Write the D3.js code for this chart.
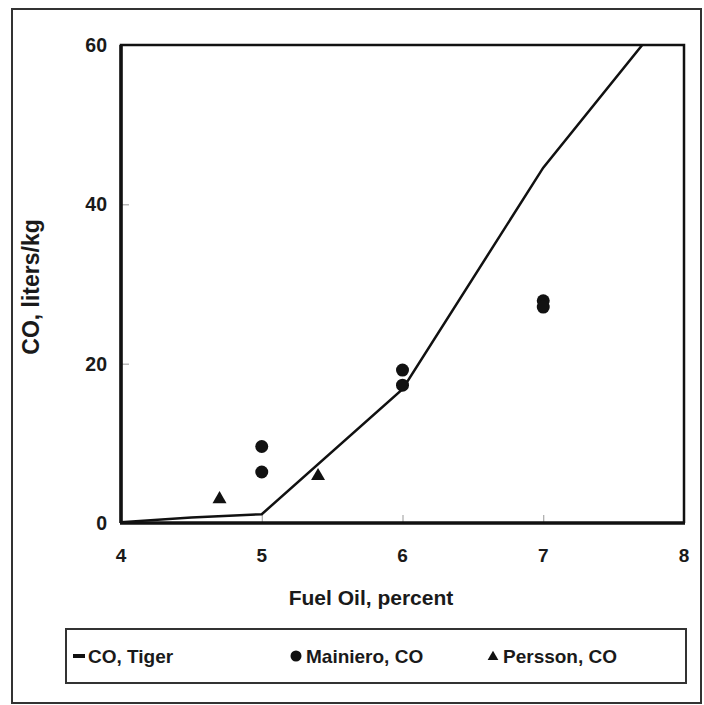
<!DOCTYPE html>
<html>
<head>
<meta charset="utf-8">
<script src="https://cdn.jsdelivr.net/npm/d3@7"></script>
<style>
body { margin: 0; background: #fff; }
text { font-family: "Liberation Sans", Arial, sans-serif; font-weight: bold; fill: #1a1a1a; }
</style>
</head>
<body>
<script>
var w = 704;
var h = 705;

// CO, Tiger model curve
var tigerX = [4, 4.5, 5, 6, 7, 8];
var tigerY = [0.1, 0.7, 1.1, 16.8, 44.6, 66.5];
// Mainiero, CO measurements
var mainieroX = [5, 5, 6, 6, 7, 7];
var mainieroY = [9.6, 6.4, 19.2, 17.3, 27.9, 27.1];
// Persson, CO measurements
var perssonX = [4.7, 5.4];
var perssonY = [3.0, 5.9];

var xTicks = [4, 5, 6, 7, 8];
var yTicks = [0, 20, 40, 60];

var pLeft = 121, pTop = 45, pRight = 684, pBottom = 523;

var svg = d3.select("body")
            .append("svg")
            .attr("width", w)
            .attr("height", h);

// outer frame
svg.append("rect")
    .attr("x", 12).attr("y", 9)
    .attr("width", 689).attr("height", 694)
    .attr("fill", "none")
    .attr("stroke", "#333")
    .attr("stroke-width", 2);

var x = d3.scaleLinear().domain([4, 8]).range([pLeft, pRight]);
var y = d3.scaleLinear().domain([0, 60]).range([pBottom, pTop]);

svg.append("defs").append("clipPath")
    .attr("id", "plot")
    .append("rect")
    .attr("x", pLeft).attr("y", pTop)
    .attr("width", pRight - pLeft).attr("height", pBottom - pTop);

// inner tick marks
var xAxis = d3.axisTop(x).tickValues(xTicks).tickSize(8).tickFormat("");
var yAxis = d3.axisRight(y).tickValues(yTicks).tickSize(8).tickFormat("");
var gx = svg.append("g").attr("transform", "translate(0," + pBottom + ")").call(xAxis);
var gy = svg.append("g").attr("transform", "translate(" + pLeft + ",0)").call(yAxis);
gx.select(".domain").remove();
gy.select(".domain").remove();
svg.selectAll(".tick line").attr("stroke", "#999").attr("stroke-width", 1);

// plot box
svg.append("path")
    .attr("d", "M" + pLeft + "," + pBottom + "V" + pTop + "H" + pRight + "V" + pBottom)
    .attr("fill", "none")
    .attr("stroke", "#111")
    .attr("stroke-width", 2.5);
svg.append("line")
    .attr("x1", pLeft - 1).attr("x2", pRight + 1)
    .attr("y1", pBottom).attr("y2", pBottom)
    .attr("stroke", "#111")
    .attr("stroke-width", 3.5);
svg.append("line")
    .attr("x1", pLeft).attr("x2", pLeft)
    .attr("y1", pTop).attr("y2", pBottom)
    .attr("stroke", "#111")
    .attr("stroke-width", 3.5);

// tick labels
svg.selectAll(".xlab")
    .data(xTicks)
    .enter()
    .append("text")
    .attr("class", "xlab")
    .text(function(d){ return d; })
    .attr("x", function(d){ return x(d); })
    .attr("y", pBottom + 39)
    .attr("text-anchor", "middle")
    .attr("font-size", "19px");

svg.selectAll(".ylab")
    .data(yTicks)
    .enter()
    .append("text")
    .attr("class", "ylab")
    .text(function(d){ return d; })
    .attr("x", pLeft - 14)
    .attr("y", function(d){ return y(d) + 7; })
    .attr("text-anchor", "end")
    .attr("font-size", "19.5px");

// axis titles
svg.append("text")
    .text("Fuel Oil, percent")
    .attr("x", 371)
    .attr("y", 605)
    .attr("text-anchor", "middle")
    .attr("font-size", "21px");

svg.append("text")
    .text("CO, liters/kg")
    .attr("transform", "translate(39,287) rotate(-90)")
    .attr("text-anchor", "middle")
    .attr("font-size", "23px");

// data
var line = d3.line()
    .x(function(d){ return x(d[0]); })
    .y(function(d){ return y(d[1]); });

svg.append("path")
    .datum(d3.zip(tigerX, tigerY))
    .attr("clip-path", "url(#plot)")
    .attr("d", line)
    .attr("fill", "none")
    .attr("stroke", "#111")
    .attr("stroke-width", 2.5);

svg.selectAll(".mainiero")
    .data(d3.zip(mainieroX, mainieroY))
    .enter()
    .append("circle")
    .attr("class", "mainiero")
    .attr("cx", function(d){ return x(d[0]); })
    .attr("cy", function(d){ return y(d[1]); })
    .attr("r", 6.5)
    .attr("fill", "#111");

var tri = d3.symbol().type(d3.symbolTriangle).size(85);
svg.selectAll(".persson")
    .data(d3.zip(perssonX, perssonY))
    .enter()
    .append("path")
    .attr("class", "persson")
    .attr("transform", function(d){ return "translate(" + x(d[0]) + "," + y(d[1]) + ")"; })
    .attr("d", tri)
    .attr("fill", "#111");

// legend
var lg = svg.append("g");
lg.append("rect")
    .attr("x", 66).attr("y", 629)
    .attr("width", 620).attr("height", 54)
    .attr("fill", "none")
    .attr("stroke", "#333")
    .attr("stroke-width", 2);

lg.append("line")
    .attr("x1", 73).attr("x2", 85)
    .attr("y1", 656).attr("y2", 656)
    .attr("stroke", "#111")
    .attr("stroke-width", 4);
lg.append("text").text("CO, Tiger")
    .attr("x", 88).attr("y", 663).attr("font-size", "19px");

lg.append("circle")
    .attr("cx", 296).attr("cy", 656).attr("r", 5.5)
    .attr("fill", "#111");
lg.append("text").text("Mainiero, CO")
    .attr("x", 306).attr("y", 663).attr("font-size", "19px");

lg.append("path")
    .attr("transform", "translate(493,657)")
    .attr("d", d3.symbol().type(d3.symbolTriangle).size(50))
    .attr("fill", "#111");
lg.append("text").text("Persson, CO")
    .attr("x", 503).attr("y", 663).attr("font-size", "19px");
</script>
</body>
</html>
